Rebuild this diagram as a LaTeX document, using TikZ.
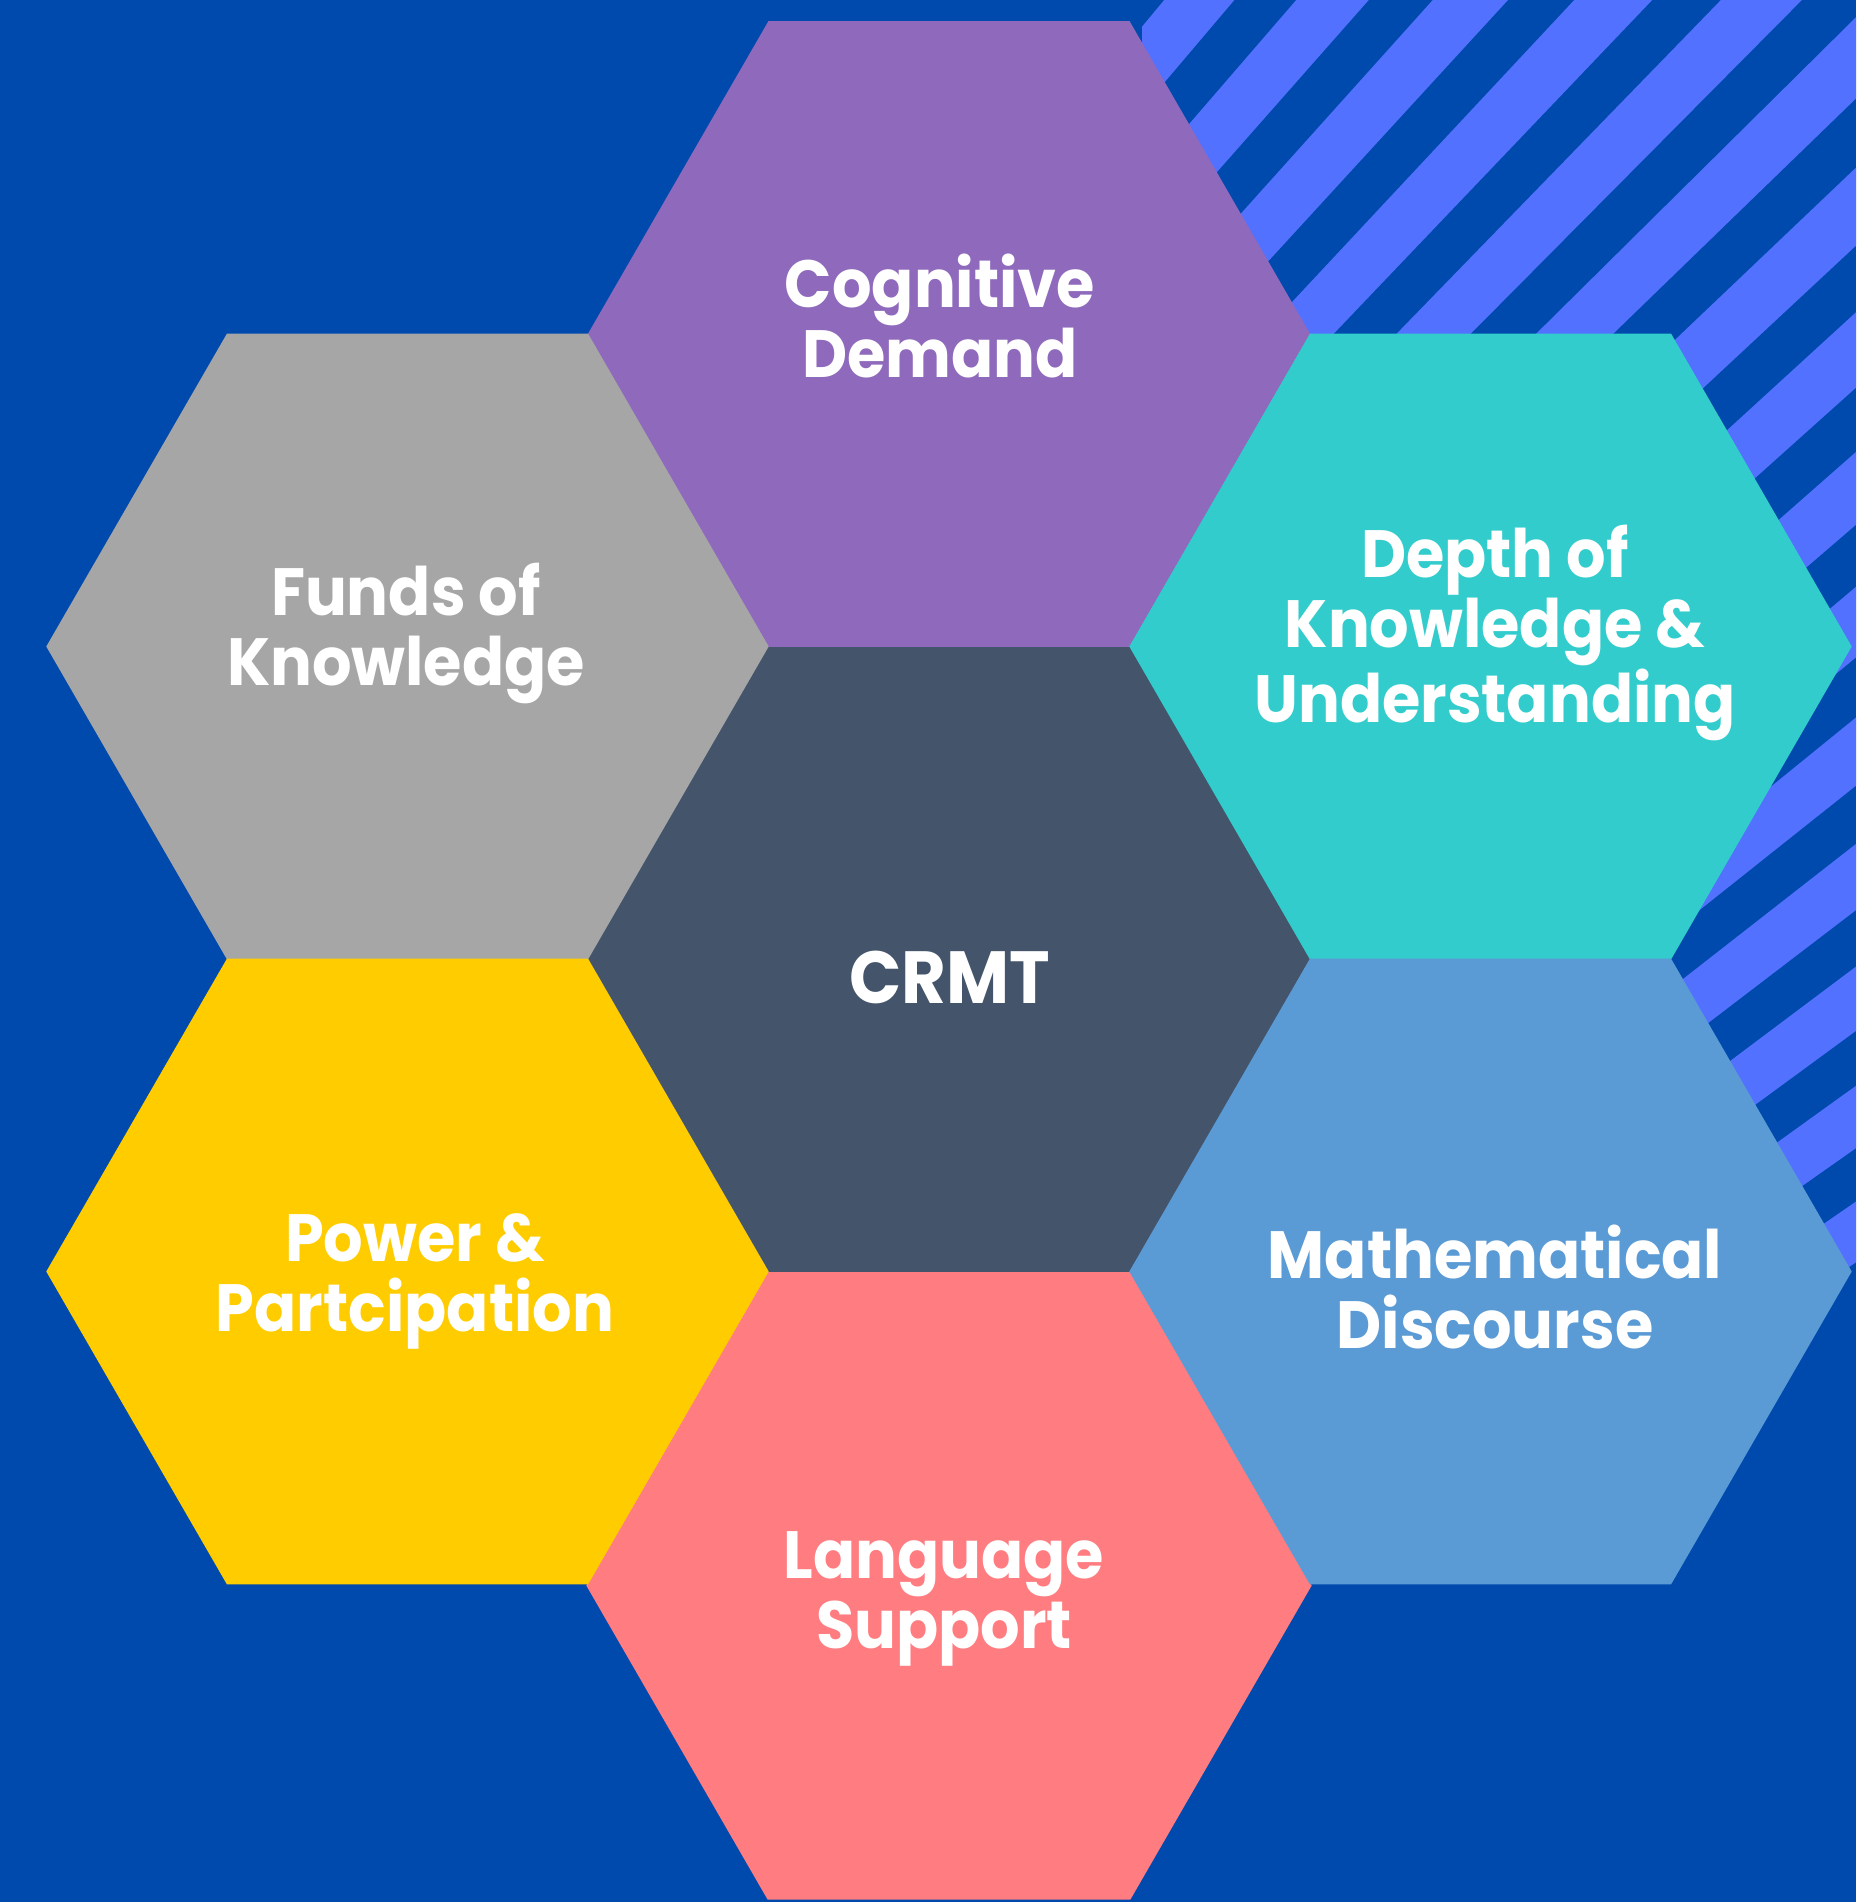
\documentclass[tikz,border=0pt]{standalone}
\usepackage{fontspec}
\setmainfont{Poppins}[FakeStretch=0.93]
\usetikzlibrary{shapes.geometric}

\definecolor{bgblue}{HTML}{004AAD}
\definecolor{stripeblue}{HTML}{5271FF}
\definecolor{hexpurple}{HTML}{8F69BB}
\definecolor{hexgrey}{HTML}{A6A6A6}
\definecolor{hexteal}{HTML}{33CCCC}
\definecolor{hexslate}{HTML}{44546A}
\definecolor{hexyellow}{HTML}{FFCC00}
\definecolor{hexblue}{HTML}{5B9BD5}
\definecolor{hexcoral}{HTML}{FF7C80}

\begin{document}
\begin{tikzpicture}[x=0.01cm,y=-0.01cm,
    hex/.style={regular polygon,regular polygon sides=6,minimum size=7.22cm,inner sep=0pt,outer sep=0pt},
    lbl/.style={text=white,align=center,inner sep=0pt,font=\bfseries\fontsize{19}{19.9}\selectfont}]
  \fill[bgblue] (0,0) rectangle (1856,1902);
  \useasboundingbox (0,0) rectangle (1856,1902);

  % stripes, top right
  \coordinate (vp) at (-2102,3934);
  \begin{scope}
    \clip (1142,0) rectangle (1856,1268);
    \foreach \k in {0,...,16} {
      \pgfmathsetmacro\aa{50.3-1.12*\k}
      \pgfmathsetmacro\bb{\aa-0.6}
      \fill[stripeblue] (vp) -- +(-\aa:6000) -- +(-\bb:6000) -- cycle;
    }
  \end{scope}

  % hexagons
  \node[hex,fill=hexcoral,minimum size=7.25cm] (language) at (949,1585.5) {};
  \node[hex,fill=hexslate] (crmt) at (949,959) {};
  \node[hex,fill=hexpurple] (cognitive) at (949,334) {};
  \node[hex,fill=hexgrey] (funds) at (407.5,646.5) {};
  \node[hex,fill=hexteal] (depth) at (1490.5,646.5) {};
  \node[hex,fill=hexyellow] (power) at (407.5,1271.5) {};
  \node[hex,fill=hexblue] (discourse) at (1490.5,1271.5) {};

  % labels
  \node[lbl,font=\bfseries\fontsize{21}{22}\selectfont] (crmttext) at (950,977) {CRMT};
  \node[lbl] (cognitivetext) at (940,316) {Cognitive\\Demand};
  \node[lbl] (fundstext) at (406,633) {Funds of\\Knowledge};
  \node[lbl] (depthtext) at (1495,633) {Depth of\\Knowledge \&\\Understanding};
  \node[lbl] (powertext) at (415,1281) {Power \&\\Partcipation};
  \node[lbl] (discoursetext) at (1495,1287) {Mathematical\\Discourse};
  \node[lbl] (languagetext) at (944,1599) {Language\\Support};
\end{tikzpicture}
\end{document}
